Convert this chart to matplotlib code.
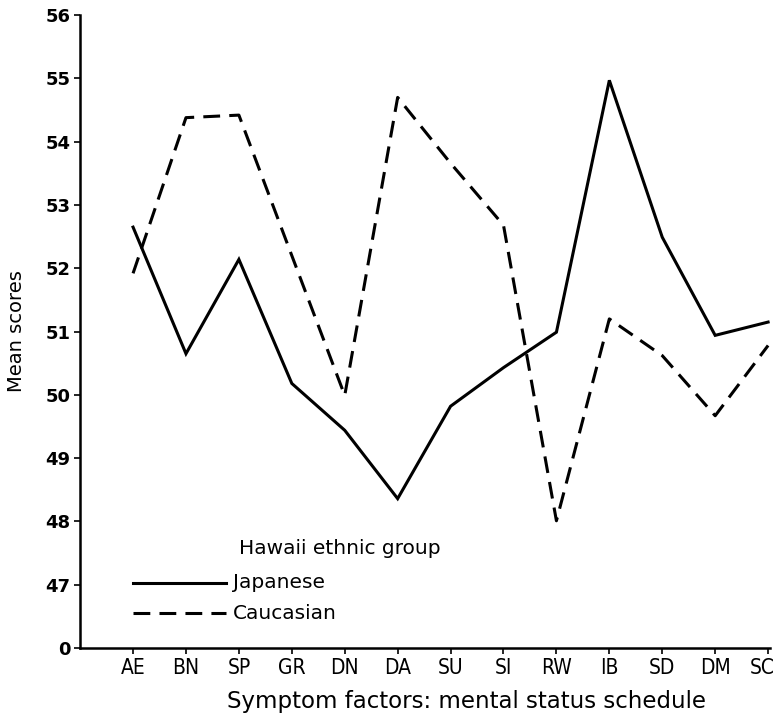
import matplotlib
matplotlib.use("Agg")
import matplotlib.pyplot as plt
import matplotlib.transforms as mtransforms
import numpy as np

factors = ['AE', 'BN', 'SP', 'GR', 'DN', 'DA', 'SU', 'SI', 'RW', 'IB', 'SD', 'DM', 'SC']
japanese = [52.65, 50.65, 52.14, 50.18, 49.44, 48.36, 49.82, 50.43, 50.99, 54.97, 52.49, 50.94, 51.15]
caucasian = [51.92, 54.38, 54.42, 52.2, 49.99, 54.7, 53.66, 52.68, 48.01, 51.2, 50.62, 49.67, 50.78]

y_ticks = [46, 47, 48, 49, 50, 51, 52, 53, 54, 55, 56]
y_labels = ['0', '47', '48', '49', '50', '51', '52', '53', '54', '55', '56']

fig = plt.figure(figsize=(7.78, 7.2), dpi=100)
ax = fig.add_axes([0.103, 0.1, 0.887, 0.879])

x = np.arange(len(factors))
ax.plot(x, japanese, color='black', lw=2.2, solid_joinstyle='miter')
ax.plot(x, caucasian, color='black', lw=2.2, dashes=(5.5, 3))

ax.set_xlim(-1.0, 12.04)
ax.set_ylim(46, 56)
ax.set_xticks(x)
ax.set_xticklabels(factors, fontsize=15, fontstretch='condensed')
ax.set_yticks(y_ticks)
ax.set_yticklabels(y_labels, fontsize=13, fontweight='bold')
ax.tick_params(axis='both', direction='out', length=4, width=1.2)
ax.tick_params(axis='y', pad=3)

# last label sits at the right edge, nudge it in
last = ax.get_xticklabels()[-1]
last.set_transform(last.get_transform() + mtransforms.ScaledTranslation(-6 / 100, 0, fig.dpi_scale_trans))

for s in ['top', 'right']:
    ax.spines[s].set_visible(False)
for s in ['left', 'bottom']:
    ax.spines[s].set_linewidth(1.8)

ax.set_ylabel('Mean scores', fontsize=14)
ax.yaxis.set_label_coords(-0.078, 0.5)
ax.set_xlabel('Symptom factors: mental status schedule', fontsize=16.5)
ax.xaxis.set_label_coords(0.56, -0.066)

# legend drawn as plain text and line samples inside the axes
ax.text(2.0, 47.57, 'Hawaii ethnic group', fontsize=14.5, va='center')
ax.plot([0, 1.75], [47.03, 47.03], color='black', lw=2.2)
ax.text(1.88, 47.03, 'Japanese', fontsize=14.5, va='center')
ax.plot([0, 1.75], [46.55, 46.55], color='black', lw=2.2, dashes=(5.5, 3))
ax.text(1.88, 46.55, 'Caucasian', fontsize=14.5, va='center')

fig.savefig('out.png', dpi=100)
